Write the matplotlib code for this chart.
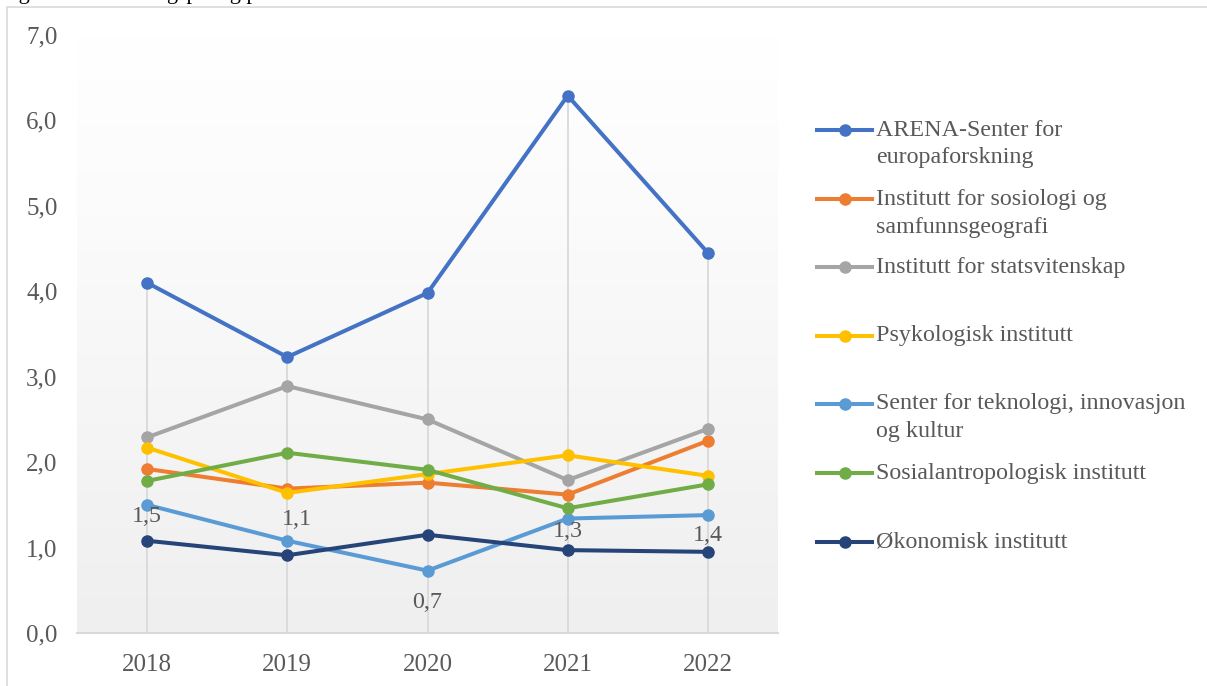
import numpy as np
import matplotlib.pyplot as plt
from matplotlib.colors import LinearSegmentedColormap
from matplotlib.lines import Line2D
from matplotlib.patches import Rectangle

# --- data ---
years = ['2018', '2019', '2020', '2021', '2022']
arena = [4.10, 3.23, 3.98, 6.29, 4.45]
sosiologi = [1.92, 1.69, 1.76, 1.62, 2.25]
statsvitenskap = [2.29, 2.89, 2.50, 1.79, 2.39]
psykologi = [2.17, 1.64, 1.86, 2.08, 1.84]
teknologi = [1.50, 1.08, 0.73, 1.34, 1.38]
sosialantropologi = [1.78, 2.11, 1.91, 1.46, 1.74]
okonomi = [1.08, 0.91, 1.15, 0.97, 0.95]

series_names = ['ARENA-Senter for\neuropaforskning',
                'Institutt for sosiologi og\nsamfunnsgeografi',
                'Institutt for statsvitenskap',
                'Psykologisk institutt',
                'Senter for teknologi, innovasjon\nog kultur',
                'Sosialantropologisk institutt',
                'Økonomisk institutt']
series = [arena, sosiologi, statsvitenskap, psykologi, teknologi,
          sosialantropologi, okonomi]
colors = ['#4472C4', '#ED7D31', '#A5A5A5', '#FFC000', '#5B9BD5',
          '#70AD47', '#264478']

plt.rcParams['font.family'] = ['Liberation Serif', 'DejaVu Serif']
W, H = 1207, 686
fig = plt.figure(figsize=(W / 100, H / 100), dpi=100)

# chart frame and the caption, which is clipped at the top like in the source
fig.add_artist(Rectangle((7 / W, -0.01), 1.0, 1 - 7 / H + 0.01,
                         transform=fig.transFigure, fill=False,
                         edgecolor='#d9d9d9', linewidth=1.2))
fig.text(0.0, 1 + 1.5 / H, 'Figur 4: Publiseringspoeng per UFI-årsverk',
         fontsize=16, va='baseline', ha='left', color='black')

ax = fig.add_axes([77 / W, 53 / H, 701 / W, 598 / H])
x = np.arange(len(years))

# gradient background of plot area
cmap = LinearSegmentedColormap.from_list(
    'bg', [(0, '#efefef'), (0.7, '#fbfbfb'), (1, '#ffffff')])
ax.imshow(np.linspace(0, 1, 256).reshape(-1, 1), cmap=cmap, origin='lower',
          extent=[0, 1, 0, 1], transform=ax.transAxes, aspect='auto', zorder=0)

# drop lines
tops = np.max(np.array(series), axis=0)
ax.vlines(x, 0, tops, color='#d9d9d9', linewidth=1.3, zorder=1)

for vals, col in zip(series, colors):
    ax.plot(x, vals, color=col, linewidth=2.9, marker='o', markersize=8,
            zorder=3, solid_capstyle='round')

# data labels on the technology series
label_offsets = [(0, -12), (10, 21), (0, -32), (0, -13), (0, -20)]
for xi, v, off in zip(x, teknologi, label_offsets):
    ax.annotate(f'{v:.1f}'.replace('.', ','), (xi, v), xytext=off,
                textcoords='offset pixels', ha='center', va='center',
                fontsize=17.3, color='#595959', zorder=4)

ax.set_xlim(-0.5, 4.5)
ax.set_ylim(0, 7)
ax.set_xticks(x)
ax.set_xticklabels(years)
ax.set_yticks(np.arange(0, 8))
ax.set_yticklabels([f'{v},0' for v in range(8)])
ax.tick_params(axis='both', length=0, labelsize=18, labelcolor='#595959')
ax.tick_params(axis='x', pad=15)
ax.tick_params(axis='y', pad=14)
for s in ['top', 'left', 'right']:
    ax.spines[s].set_visible(False)
ax.spines['bottom'].set_color('#d9d9d9')
ax.spines['bottom'].set_linewidth(1.5)
ax.spines['bottom'].set_zorder(2)

# legend drawn at Excel positions
leg_y = [130, 199, 267, 336, 404, 473, 542]
for name, col, py in zip(series_names, colors, leg_y):
    fy = 1 - py / H
    fig.add_artist(Line2D([817 / W, 872 / W], [fy, fy], color=col,
                          linewidth=2.9, transform=fig.transFigure))
    fig.add_artist(Line2D([844.5 / W], [fy], color=col, marker='o',
                          markersize=8, transform=fig.transFigure))
    for i, line in enumerate(name.split('\n')):
        fig.text(876 / W, 1 - (py + 28 * i) / H, line, fontsize=17.3,
                 color='#595959', va='center', ha='left')

fig.savefig('out.png', dpi=100)
